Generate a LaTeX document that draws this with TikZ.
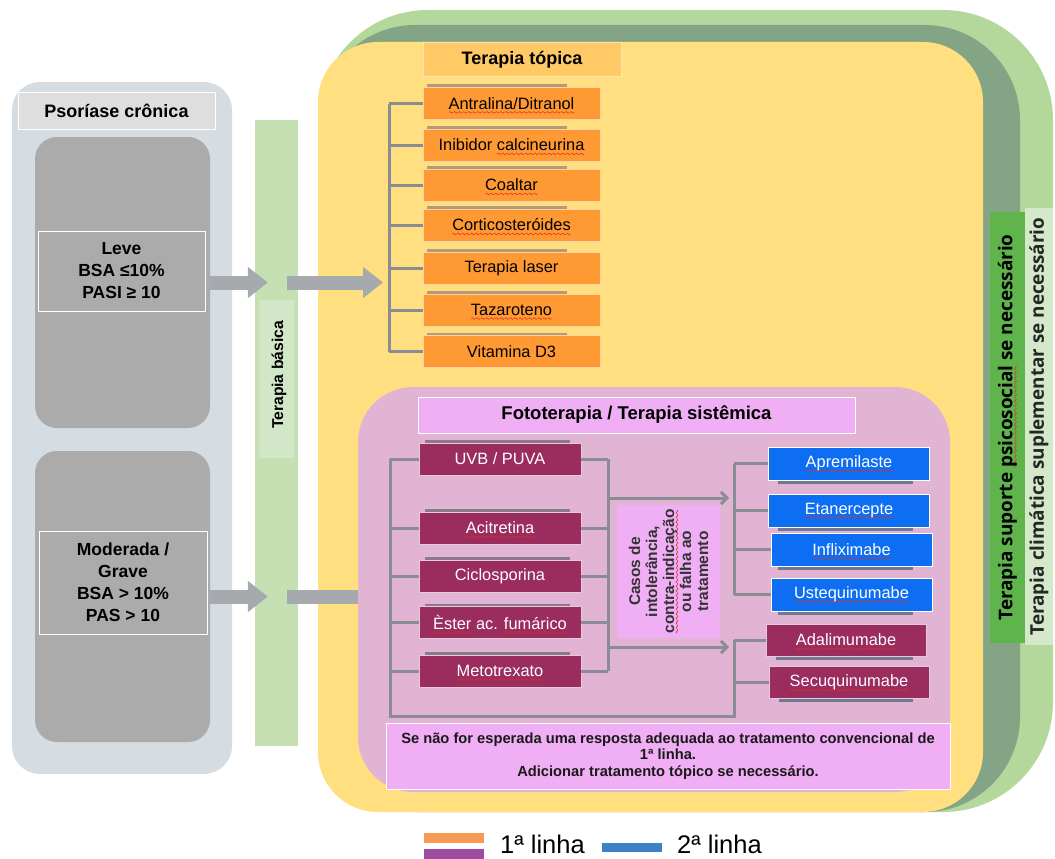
\documentclass[tikz,border=0pt]{standalone}
\usepackage{fontspec}
\setmainfont{Liberation Sans}
\newfontfamily\osans{Open Sans}
\usetikzlibrary{arrows.meta}
\definecolor{lpanel}{HTML}{D5DDE3}
\definecolor{hdrgrey}{HTML}{DEDEDE}
\definecolor{blk}{HTML}{ABABAB}
\definecolor{arrowg}{HTML}{A6AAAF}
\definecolor{barg}{HTML}{C5E0B3}
\definecolor{barg2}{HTML}{D2E7C7}
\definecolor{yel}{HTML}{FFDF80}
\definecolor{lgreen}{HTML}{B4D89B}
\definecolor{dgreen}{HTML}{84A585}
\definecolor{thdr}{HTML}{FFC966}
\definecolor{orng}{HTML}{FF9933}
\definecolor{pinkp}{HTML}{E2B4D4}
\definecolor{violet}{HTML}{F0AEF4}
\definecolor{maroon}{HTML}{9A2C5E}
\definecolor{blu}{HTML}{0D6EF3}
\definecolor{connc}{HTML}{8C8C94}
\definecolor{psig}{HTML}{5FB54B}
\definecolor{palg}{HTML}{D4E9CA}
\definecolor{legO}{HTML}{F79A55}
\definecolor{legP}{HTML}{9E4C9F}
\definecolor{legB}{HTML}{3D82C4}
\definecolor{wavyred}{HTML}{E03020}
\definecolor{shO}{HTML}{B59A78}
\definecolor{shM}{HTML}{8A7A88}
\definecolor{shB}{HTML}{6F7890}
\newsavebox\wvb
\newcommand\wavepiece{\tikz[x=1pt,y=1pt,baseline=0pt]\draw[wavyred, line width=0.55pt, line join=round] (0,0) -- (1,0.9) -- (3,-0.9) -- (4,0);}
\newcommand\rw[1]{\sbox\wvb{#1}\rlap{\raisebox{-3pt}[0pt][0pt]{\hbox to \wd\wvb{\xleaders\hbox{\wavepiece}\hfill}}}\usebox\wvb}
\begin{document}
\begin{tikzpicture}[x=1pt,y=-1pt,
  hdr/.style={draw=white, line width=1pt, inner sep=0pt, font=\fontsize{18}{22}\selectfont\bfseries},
  obox/.style={fill=orng, draw=orng!45!white, line width=1pt, minimum width=177pt, minimum height=32pt, inner sep=0pt, font=\fontsize{16.4}{19}\selectfont},
  mbox/.style={fill=maroon, draw=maroon!25!white, line width=0.8pt, text=white, minimum width=162pt, minimum height=32pt, inner sep=0pt, font=\fontsize{16.4}{19}\selectfont},
  bbox/.style={fill=blu, draw=white, line width=0.8pt, text=white, minimum width=161pt, minimum height=33pt, inner sep=0pt, font=\fontsize{16.4}{19}\selectfont},
  sevbox/.style={fill=blk, draw=white, line width=0.8pt, inner sep=0pt, align=center, font=\fontsize{17.5}{22}\selectfont\bfseries},
  conn/.style={draw=connc, line width=3pt},
  bigarrow/.style={draw=arrowg, line width=14pt, -{Triangle[length=20pt,width=30pt]}},
  thinarrow/.style={conn, -{Straight Barb[length=6pt,width=12pt]}},
  shadowO/.style={draw=shO, line width=3pt},
  shadowM/.style={draw=shM, line width=3pt},
  shadowB/.style={draw=shB, line width=3pt},
  vlab/.style={rotate=90, inner sep=0pt, font=\osans\fontsize{18.9}{22}\selectfont\bfseries}
]
\useasboundingbox (0,0) rectangle (1055,859);
\fill[white] (0,0) rectangle (1055,859);

% ---------- big background shapes ----------
\fill[lgreen, rounded corners=110pt] (318,10) rectangle (1053,812);
\fill[dgreen, rounded corners=95pt] (320,25) rectangle (1020,812);
\fill[yel, rounded corners=60pt] (318,42) rectangle (983,812);

% ---------- left column ----------
\node[fill=lpanel, rounded corners=28pt, minimum width=220pt, minimum height=692pt, inner sep=0pt] (leftp) at (122,428) {};
\node[hdr, fill=hdrgrey, minimum width=197pt, minimum height=37pt] (psor) at (116.5,110.5) {Psoríase crônica};
\node[fill=blk, rounded corners=22pt, minimum width=175pt, minimum height=291pt, inner sep=0pt] (blk1) at (122.5,282.5) {};
\node[fill=blk, rounded corners=22pt, minimum width=175pt, minimum height=291pt, inner sep=0pt] (blk2) at (122.5,596.5) {};
\node[sevbox, minimum width=167pt, minimum height=80pt] (leve) at (121.5,271) {Leve\\BSA ≤10\%\\PASI ≥ 10};
\node[sevbox, minimum width=168pt, minimum height=103pt] (mod) at (123,582.5) {Moderada /\\Grave\\BSA > 10\%\\PAS > 10};

% ---------- Terapia basica bar ----------
\node[fill=barg, minimum width=43pt, minimum height=626pt, inner sep=0pt] (bar) at (276.5,433) {};
\node[fill=barg2, minimum width=35pt, minimum height=158pt, inner sep=0pt] (barin) at (276.5,379) {};
\node[rotate=90, inner sep=0pt, font=\fontsize{15.7}{18}\selectfont\bfseries] (bartxt) at (279,375) {Terapia básica};

% ---------- big arrows ----------
\draw[bigarrow] (blk1.east) -- ([xshift=13pt]bar.west |- blk1.east);
\draw[bigarrow] (blk2.east) -- ([xshift=13pt]bar.west |- blk2.east);
\coordinate (tbr) at (389,282.5);
\coordinate (fbr) at (390,596.5);
\draw[bigarrow] ([xshift=-11pt]bar.east |- blk1.east) -- ([xshift=-6pt]tbr);
\draw[bigarrow] ([xshift=-11pt]bar.east |- blk2.east) -- ([xshift=-7pt]fbr);

% ---------- right vertical labels ----------
\node[fill=psig, vlab, minimum width=431pt, minimum height=35pt] (psico) at (1007.5,427.5) {Terapia suporte \rw{psicosocial} se necessário};
\node[fill=palg, vlab, minimum width=437pt, minimum height=28pt, text=black!85] (clim) at (1039,426.5) {Terapia climática suplementar se necessário};

% ---------- Terapia topica ----------
\node[hdr, fill=thdr, draw=thdr!50!white, minimum width=198pt, minimum height=34pt] (top) at (522,60) {Terapia tópica};
\foreach \yy in {86,127,167,207,250,292,334}{\draw[shadowO] (427,\yy) -- (567,\yy);}
\node[obox] (t1) at (511.5,103.5) {\rw{Antralina/Ditranol}};
\node[obox] (t2) at (511.5,145) {Inibidor \rw{calcineurina}};
\node[obox] (t3) at (511.5,185) {\rw{Coaltar}};
\node[obox] (t4) at (511.5,225) {\rw{Corticosteróides}};
\node[obox] (t5) at (511.5,268.5) {Terapia laser};
\node[obox] (t6) at (511.5,310) {\rw{Tazaroteno}};
\node[obox] (t7) at (511.5,351.5) {Vitamina D3};
\coordinate (tx) at (389,0);
\draw[conn] (t1.west -| tx) -- (t7.west -| tx);
\foreach \n in {t1,t2,t3,t4,t5,t6,t7}{\draw[conn] (\n.west -| tx) -- (\n.west);}

% ---------- Fototerapia panel ----------
\node[fill=pinkp, rounded corners=55pt, minimum width=592pt, minimum height=405pt, inner sep=0pt] (pinkpanel) at (654,589.5) {};
\node[hdr, fill=violet, minimum width=437pt, minimum height=36pt, font=\fontsize{18.5}{22}\selectfont\bfseries] (foto) at (636.5,415) {Fototerapia / Terapia sistêmica};

\foreach \yy in {441,510,558,605,653}{\draw[shadowM] (425,\yy) -- (570,\yy);}
\node[mbox] (m1) at (500,459) {UVB / PUVA};
\node[mbox] (m2) at (500,528) {\rw{Acitretina}};
\node[mbox] (m3) at (500,576) {Ciclosporina};
\node[mbox] (m4) at (500,622.5) {\rw{Èster} ac. \rw{fumárico}};
\node[mbox] (m5) at (500,671) {\rw{Metotrexato}};

\foreach \yy in {482,529,568,613}{\draw[shadowB] (778,\yy) -- (913,\yy);}
\draw[shadowB] (776,658) -- (913,658);
\draw[shadowB] (779,700) -- (913,700);
\node[bbox] (b1) at (849,463.5) {\rw{Apremilaste}};
\node[bbox] (b2) at (849,510.5) {\rw{Etanercepte}};
\node[bbox] (b3) at (851.5,549.5) {\rw{Infliximabe}};
\node[bbox] (b4) at (851.5,594.5) {\rw{Ustequinumabe}};
\node[mbox, minimum width=160pt] (s1) at (846,640) {\rw{Adalimumabe}};
\node[mbox, minimum width=160pt] (s2) at (849,682.5) {\rw{Secuquinumabe}};

\node[fill=violet, minimum width=133pt, minimum height=103pt, inner sep=0pt, rotate=90, align=center, text=black!80, font=\fontsize{15.5}{17}\selectfont\bfseries] (casos) at (668.5,571.5) {Casos de\\intolerância,\\\rw{contra-indicação}\\ou falha ao\\tratamento};

% left bracket of phototherapy boxes
\coordinate (lx) at (390,0);
\coordinate (bot) at (0,716);
\draw[conn] (m1.west -| lx) -- (lx |- bot) -- (734,716) -- (s1.west -| 734,0);
\foreach \n in {m1,m2,m3,m4,m5}{\draw[conn] (\n.west -| lx) -- (\n.west);}
% right bracket
\coordinate (rx) at (608,0);
\draw[conn] (m1.east -| rx) -- (m5.east -| rx);
\foreach \n in {m1,m2,m3,m4,m5}{\draw[conn] (\n.east) -- (\n.east -| rx);}
% blue bracket
\coordinate (bx) at (734,0);
\draw[conn] (b1.west -| bx) -- (b4.west -| bx);
\foreach \n in {b1,b2,b3,b4}{\draw[conn] (\n.west -| bx) -- (\n.west);}
\foreach \n in {s1,s2}{\draw[conn] (\n.west -| bx) -- (\n.west);}
% arrows to second line
\coordinate (ua) at (0,498);
\coordinate (la) at (0,647);
\draw[thinarrow] (rx |- ua) -- ([xshift=-5pt]bx |- ua);
\draw[thinarrow] (rx |- la) -- ([xshift=-5pt]bx |- la);

% bottom box
\node[fill=violet, draw=white, line width=0.8pt, minimum width=564pt, minimum height=66pt, inner sep=0pt, align=center, text=black!90, font=\fontsize{14.7}{16.5}\selectfont\bfseries] (note) at (668,756) {Se não for esperada uma resposta adequada ao tratamento convencional de\\1ª linha.\\Adicionar tratamento tópico se necessário.};

% ---------- legend ----------
\node[fill=legO, minimum width=60pt, minimum height=10pt, inner sep=0pt] (lo) at (454,838) {};
\node[fill=legP, minimum width=60pt, minimum height=10pt, inner sep=0pt] (lp) at (454,854) {};
\node[anchor=base west, inner sep=0pt, font=\fontsize{25.5}{28}\selectfont] (l1) at (500,853) {1ª linha};
\node[fill=legB, minimum width=60pt, minimum height=9pt, inner sep=0pt] (lb) at (632,847) {};
\node[anchor=base west, inner sep=0pt, font=\fontsize{25.5}{28}\selectfont] (l2) at (677,853) {2ª linha};
\end{tikzpicture}
\end{document}
